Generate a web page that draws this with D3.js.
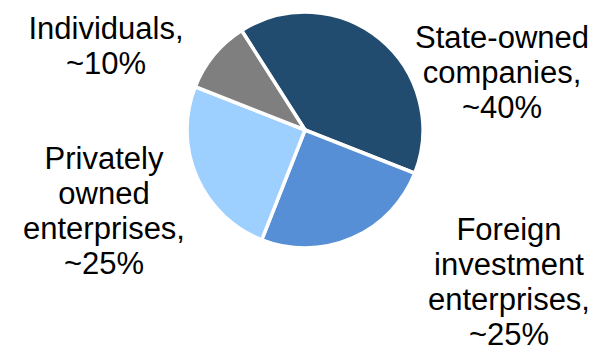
<!DOCTYPE html>
<html>
<head>
<meta charset="utf-8">
<script src="https://cdn.jsdelivr.net/npm/d3@7"></script>
<style>
  html, body { margin: 0; padding: 0; background: #ffffff; }
  svg { display: block; }
  text { font-family: "Liberation Sans", Arial, sans-serif; fill: #000000; }
</style>
</head>
<body>
<svg id="chart" width="594" height="346"></svg>
<script>
// ---- Data ----
const categories = ["State-owned companies", "Foreign investment enterprises", "Privately owned enterprises", "Individuals"];
const values = [40, 25, 25, 10];
const labelLines = [
  ["State-owned", "companies,", "~40%"],
  ["Foreign", "investment", "enterprises,", "~25%"],
  ["Privately", "owned", "enterprises,", "~25%"],
  ["Individuals,", "~10%"]
];
const colors = ["#224C6F", "#568FD6", "#9DCFFF", "#7F7F7F"];

// ---- Layout ----
const W = 594, H = 346;
const cx = 305, cy = 130, R = 118;
const startDeg = -32.5;
const labelAnchors = [ // x center, first baseline
  [502, 48],
  [509, 240],
  [104, 169],
  [106, 39]
];
const lineH = 35;

const svg = d3.select("#chart");

const pie = d3.pie()
  .sort(null)
  .value(d => d.value)
  .startAngle(startDeg * Math.PI / 180)
  .endAngle(startDeg * Math.PI / 180 + 2 * Math.PI);

const data = categories.map((c, i) => ({ name: c, value: values[i], color: colors[i], lines: labelLines[i], pos: labelAnchors[i] }));
const arcs = pie(data);
const arc = d3.arc().innerRadius(0).outerRadius(R);

const g = svg.append("g").attr("transform", `translate(${cx},${cy})`);
g.selectAll("path")
  .data(arcs)
  .join("path")
  .attr("d", arc)
  .attr("fill", d => d.data.color)
  .attr("stroke", "#ffffff")
  .attr("stroke-width", 3.5)
  .attr("stroke-linejoin", "miter");

const labels = svg.selectAll("text.lbl")
  .data(data)
  .join("text")
  .attr("class", "lbl")
  .attr("text-anchor", "middle")
  .attr("font-size", 31);

labels.each(function(d) {
  const t = d3.select(this);
  d.lines.forEach((ln, j) => {
    t.append("tspan")
      .attr("x", d.pos[0])
      .attr("y", d.pos[1] + j * lineH)
      .text(ln);
  });
});
</script>
</body>
</html>
